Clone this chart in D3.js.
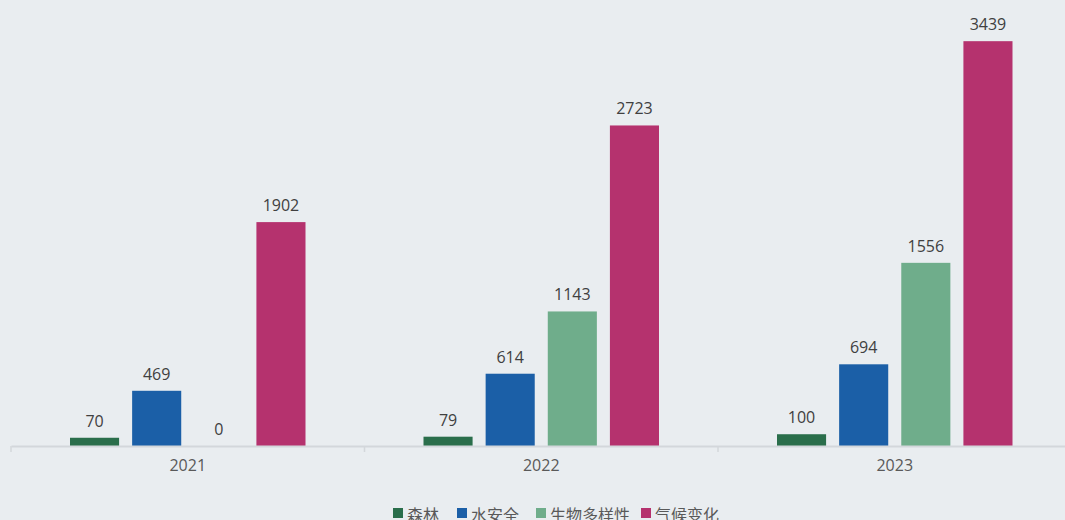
<!DOCTYPE html>
<html>
<head>
<meta charset="utf-8">
<script src="https://cdn.jsdelivr.net/npm/d3@7"></script>
<style>
  html, body { margin: 0; padding: 0; background: #e9edf0; overflow: hidden; }
  svg { display: block; font-family: "Open Sans", "Noto Sans CJK SC", sans-serif; }
</style>
</head>
<body>
<div id="chart"></div>
<script>
// data
var years = ["2021", "2022", "2023"];
var seriesNames = ["森林", "水安全", "生物多样性", "气候变化"];
var forest = [70, 79, 100];
var water = [469, 614, 694];
var biodiversity = [0, 1143, 1556];
var climate = [1902, 2723, 3439];
var colors = ["#2a6e4b", "#1b5fa7", "#6fad8b", "#b5326e"];

var width = 1065, height = 520;

var svg = d3.select("#chart")
  .append("svg")
    .attr("width", width)
    .attr("height", height);

var rows = years.map(function(y, i) {
  return { year: y, values: [forest[i], water[i], biodiversity[i], climate[i]] };
});

// x axis (the last band runs past the right edge, as in the original)
var x = d3.scaleBand()
  .domain(years)
  .range([11, 1071.5])
  .padding(0);

var x1 = d3.scaleBand()
  .domain(d3.range(seriesNames.length))
  .range([59, x.bandwidth() - 59])
  .paddingInner(0.21)
  .paddingOuter(0);

var y = d3.scaleLinear()
  .domain([0, 3500])
  .range([446, 34]);

// bars
var groups = svg.append("g")
  .selectAll("g")
  .data(rows)
  .enter().append("g")
    .attr("transform", function(d) { return "translate(" + x(d.year) + ",0)"; });

groups.selectAll("rect")
  .data(function(d) { return d.values; })
  .enter().append("rect")
    .attr("x", function(d, i) { return x1(i); })
    .attr("width", x1.bandwidth())
    .attr("y", function(d) { return y(d); })
    .attr("height", function(d) { return y(0) - y(d); })
    .attr("fill", function(d, i) { return colors[i]; });

groups.selectAll("text")
  .data(function(d) { return d.values; })
  .enter().append("text")
    .attr("x", function(d, i) { return x1(i) + x1.bandwidth() / 2; })
    .attr("y", function(d) { return Math.min(y(d) - 11, y(0) - 9); })
    .attr("text-anchor", "middle")
    .style("font-size", "16px")
    .attr("fill", "#404040")
    .text(function(d) { return d; });

// axis
var axis = svg.append("g")
  .attr("transform", "translate(0," + y(0) + ")")
  .call(d3.axisBottom(x).tickSize(0).tickSizeOuter(0));

axis.select(".domain").attr("stroke", "#d3d7db").attr("stroke-width", 2);
axis.selectAll("text")
  .attr("dy", "1.05em")
  .attr("y", 8)
  .style("font-size", "16px")
  .style("font-family", "'Open Sans', sans-serif")
  .attr("fill", "#595959");

// tick marks at band edges
svg.append("g")
  .selectAll("line")
  .data(years.concat(["end"]))
  .enter().append("line")
    .attr("x1", function(d, i) { return i < years.length ? x(d) : x.range()[1]; })
    .attr("x2", function(d, i) { return i < years.length ? x(d) : x.range()[1]; })
    .attr("y1", y(0))
    .attr("y2", y(0) + 6)
    .attr("stroke", "#d3d7db")
    .attr("stroke-width", 1.5);

// legend
var legendX = [393, 457, 536, 641];
var legend = svg.append("g")
  .selectAll("g")
  .data(seriesNames)
  .enter().append("g")
    .attr("transform", function(d, i) { return "translate(" + legendX[i] + ",508)"; });

legend.append("rect")
  .attr("width", 10)
  .attr("height", 10)
  .attr("fill", function(d, i) { return colors[i]; });

legend.append("text")
  .attr("x", 14)
  .attr("y", 13)
  .style("font-size", "16px")
  .style("font-family", "'Noto Sans CJK SC', sans-serif")
  .attr("fill", "#595959")
  .text(function(d) { return d; });
</script>
</body>
</html>
